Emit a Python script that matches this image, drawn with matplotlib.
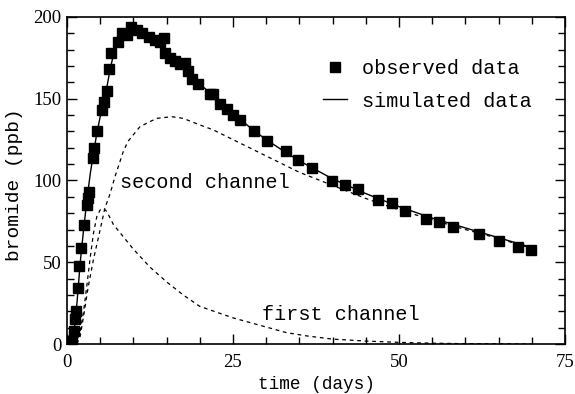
import matplotlib
matplotlib.use("Agg")
import matplotlib.pyplot as plt
from matplotlib.ticker import MultipleLocator

# observed data (squares)
obs_x = [0.0, 0.8, 1.05, 1.2, 1.3, 1.6, 1.8, 2.1, 2.55, 2.95, 3.1, 3.3, 3.95, 4.1, 4.45,
         5.3, 5.6, 6.0, 6.4, 6.7, 7.7, 8.3, 9.0, 9.7, 10.5, 11.3, 12.3, 13.3, 14.0, 14.6,
         14.8, 15.5, 16.3, 17.0, 17.7, 18.2, 18.8, 19.8, 21.6, 22.0, 23.0, 24.1, 25.0,
         26.0, 28.1, 30.1, 33.0, 34.8, 36.9, 39.9, 41.9, 43.9, 46.8, 49.0, 50.9, 54.1,
         56.0, 58.1, 62.1, 65.0, 67.9, 69.9]
obs_y = [2, 2, 8, 15, 20, 34, 48, 59, 73, 85, 89, 93, 114, 120, 130,
         143, 148, 155, 168, 178, 185, 190, 189, 194, 192, 190, 188, 186, 185, 187,
         178, 175, 173, 171, 172, 167, 162, 159, 153, 153, 147, 144, 140,
         137, 130, 124, 118, 112.5, 107.5, 99.5, 97, 95, 88, 86, 81.5, 76.5,
         74.5, 71.5, 67.5, 63, 59.5, 57.5]

# simulated data (solid line)
sim_x = [0, 0.5, 1, 1.5, 2, 2.5, 3, 3.5, 4, 4.5, 5, 5.5, 6, 6.5, 7, 7.5, 8, 9, 10, 11,
         12, 13, 14, 15, 16, 17, 18, 20, 22, 25, 28, 30, 33, 35, 40, 45, 50, 55, 60, 65, 70]
sim_y = [0, 0.5, 5, 25, 50, 70, 88, 104, 117, 129, 139, 148, 157, 168, 177, 183, 187, 190, 191, 190,
         188, 186, 183, 179, 175, 171, 167, 159, 152, 141, 131, 125, 117, 112, 101, 92, 84, 77, 71, 65, 59]

# first channel (dashed)
ch1_x = [1.0, 1.5, 2, 2.5, 3, 3.5, 4, 4.5, 5, 5.5, 6, 6.5, 7, 8, 9, 10, 12.5, 15, 17.5, 20,
         25, 29, 33, 36, 40, 45, 50, 55, 60, 70]
ch1_y = [0, 2, 8, 20, 36, 53, 68, 78, 82, 83, 81, 77, 73, 68, 63, 58, 47, 38, 30, 23,
         16, 11.5, 7, 5, 3, 1.8, 1, 0.5, 0.2, 0]

# second channel (dashed)
ch2_x = [1.5, 2, 2.5, 3.2, 4, 5, 5.7, 6.5, 7.2, 8.5, 9.2, 11, 13.5, 15.8, 17.5, 20, 22, 25,
         27, 30, 35, 40, 45, 50, 55, 60, 65, 70]
ch2_y = [0, 5, 17, 35, 52, 70, 83, 92, 102, 118, 124, 133, 138, 139, 138, 134, 131, 125,
         121, 115, 105, 97, 89, 82, 76, 70, 64.5, 58.5]

x_ticks = [0, 25, 50, 75]
y_ticks = [0, 50, 100, 150, 200]

txt_font = "Liberation Mono"
num_font = "Liberation Serif"

fig = plt.figure(figsize=(5.75, 3.94), dpi=100)
ax = fig.add_axes([0.1165, 0.1269, 0.8661, 0.83])

ax.plot(sim_x, sim_y, color="black", lw=1.0, label="simulated data")
ax.plot(ch1_x, ch1_y, color="black", lw=0.9, linestyle=(0, (3, 3)))
ax.plot(ch2_x, ch2_y, color="black", lw=0.9, linestyle=(0, (3, 3)))
ax.plot(obs_x, obs_y, linestyle="none", marker="s", markersize=7, color="black",
        label="observed data")

ax.set_xlim(0, 75)
ax.set_ylim(0, 200)
ax.set_xticks(x_ticks)
ax.set_yticks(y_ticks)
ax.xaxis.set_minor_locator(MultipleLocator(5))
ax.yaxis.set_minor_locator(MultipleLocator(10))
ax.tick_params(which="both", direction="in", top=True, right=True, width=1.0)
ax.tick_params(which="major", length=7)
ax.tick_params(which="minor", length=5)
ax.tick_params(axis="x", pad=7)
ax.tick_params(axis="y", pad=4)
for lab in ax.get_xticklabels() + ax.get_yticklabels():
    lab.set_fontfamily(num_font)
    lab.set_fontsize(13.5)
for s in ax.spines.values():
    s.set_linewidth(1.2)

ax.set_xlabel("time (days)", fontfamily=txt_font, fontsize=12.8)
ax.set_ylabel("bromide (ppb)", fontfamily=txt_font, fontsize=14)
ax.xaxis.set_label_coords(0.5, -0.097)
ax.yaxis.set_label_coords(-0.088, 0.486)

ax.text(8.0, 99, "second channel", fontfamily=txt_font, fontsize=14.5, ha="left", va="center")
ax.text(29.4, 18.3, "first channel", fontfamily=txt_font, fontsize=14.5, ha="left", va="center")

handles, labels = ax.get_legend_handles_labels()
order = [1, 0]
leg = ax.legend([handles[i] for i in order], [labels[i] for i in order],
                loc="upper left", bbox_to_anchor=(0.514, 0.872), frameon=False,
                prop={"family": txt_font, "size": 14.5}, handlelength=1.2,
                handletextpad=0.75, labelspacing=0.68, borderpad=0, borderaxespad=0,
                numpoints=1)

fig.savefig("out.png", dpi=100)
